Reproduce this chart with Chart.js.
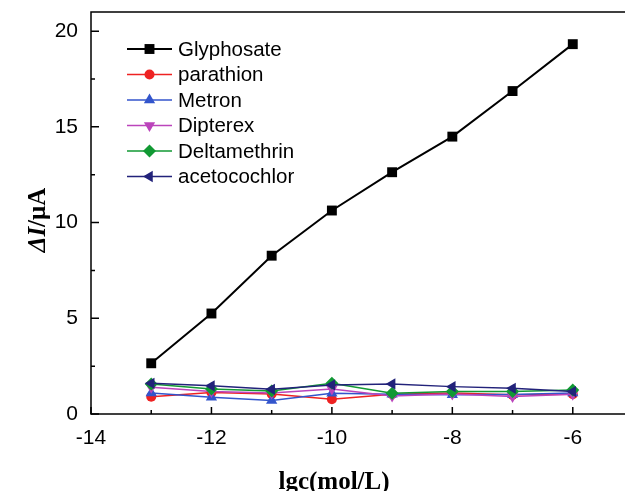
<!DOCTYPE html>
<html>
<head>
<meta charset="utf-8">
<script src="https://cdn.jsdelivr.net/npm/chart.js@4.4.1/dist/chart.umd.min.js"></script>
<style>
    html, body { margin: 0; padding: 0; background: #fff; overflow: hidden; }
    #wrap { width: 640px; height: 491px; }
</style>
</head>
<body>
<div id="wrap"><canvas id="responseChart" width="640" height="491"></canvas></div>
<script>
// --- Data ---
const concentrations = [-13, -12, -11, -10, -9, -8, -7, -6];
const glyphosate   = [2.65, 5.25, 8.27, 10.63, 12.63, 14.49, 16.87, 19.32];
const parathion    = [0.90, 1.12, 1.05, 0.77, 1.03, 1.10, 1.00, 1.03];
const metron       = [1.10, 0.87, 0.70, 1.08, 1.03, 1.00, 1.02, 1.10];
const dipterex     = [1.40, 1.17, 1.10, 1.30, 0.94, 1.05, 0.91, 1.03];
const deltamethrin = [1.57, 1.30, 1.20, 1.60, 1.08, 1.17, 1.17, 1.26];
const acetocochlor = [1.60, 1.47, 1.29, 1.52, 1.57, 1.43, 1.34, 1.17];

const seriesNames = ['Glyphosate', 'parathion', 'Metron', 'Dipterex', 'Deltamethrin', 'acetocochlor'];
const xMajorTicks = [-14, -12, -10, -8, -6];
const xMinorTicks = [-13, -11, -9, -7, -5];
const yMajorTicks = [0, 5, 10, 15, 20];
const yMinorTicks = [2.5, 7.5, 12.5, 17.5];

const styles = [
    { color: '#000000', pointStyle: 'rect',     rotation: 0,   radius: 7,   width: 2 },
    { color: '#ee2222', pointStyle: 'circle',   rotation: 0,   radius: 5,   width: 1.5 },
    { color: '#3355cc', pointStyle: 'triangle', rotation: 0,   radius: 6.5, width: 1.5 },
    { color: '#bb44bb', pointStyle: 'triangle', rotation: 180, radius: 6.5, width: 1.5 },
    { color: '#119933', pointStyle: 'rectRot',  rotation: 0,   radius: 6.5, width: 1.5 },
    { color: '#22227a', pointStyle: 'triangle', rotation: 270, radius: 6.5, width: 1.5 }
];

const allSeries = [glyphosate, parathion, metron, dipterex, deltamethrin, acetocochlor];

const datasets = allSeries.map((values, i) => ({
    label: seriesNames[i],
    data: values.map((v, j) => ({ x: concentrations[j], y: v })),
    showLine: true,
    borderColor: styles[i].color,
    backgroundColor: styles[i].color,
    borderWidth: styles[i].width,
    pointStyle: styles[i].pointStyle,
    pointRotation: styles[i].rotation,
    pointRadius: styles[i].radius,
    pointBorderWidth: 0,
    order: allSeries.length - i
}));

// frame, inward ticks, legend and axis titles
const framePlugin = {
    id: 'frame',
    afterDraw(chart) {
        const ctx = chart.ctx;
        const area = chart.chartArea;
        const xs = chart.scales.x;
        const ys = chart.scales.y;
        ctx.save();
        ctx.strokeStyle = '#000';
        ctx.lineWidth = 1.5;
        ctx.strokeRect(area.left, area.top, area.right - area.left, area.bottom - area.top);

        ctx.beginPath();
        xMajorTicks.forEach(v => {
            const px = xs.getPixelForValue(v);
            ctx.moveTo(px, area.bottom); ctx.lineTo(px, area.bottom - 7);
        });
        xMinorTicks.forEach(v => {
            const px = xs.getPixelForValue(v);
            ctx.moveTo(px, area.bottom); ctx.lineTo(px, area.bottom - 4);
        });
        yMajorTicks.forEach(v => {
            const py = ys.getPixelForValue(v);
            ctx.moveTo(area.left, py); ctx.lineTo(area.left + 8, py);
        });
        yMinorTicks.forEach(v => {
            const py = ys.getPixelForValue(v);
            ctx.moveTo(area.left, py); ctx.lineTo(area.left + 4, py);
        });
        ctx.stroke();

        // legend
        const top = 49, step = 25.5;
        ctx.font = '20.5px "Liberation Sans", Arial, sans-serif';
        ctx.textBaseline = 'middle';
        ctx.textAlign = 'left';
        chart.data.datasets.forEach((ds, i) => {
            const y = top + i * step;
            ctx.strokeStyle = ds.borderColor;
            ctx.lineWidth = ds.borderWidth;
            ctx.beginPath();
            ctx.moveTo(127, y); ctx.lineTo(172, y);
            ctx.stroke();
            ctx.fillStyle = ds.backgroundColor;
            Chart.helpers.drawPoint(ctx, {
                pointStyle: ds.pointStyle,
                rotation: ds.pointRotation,
                radius: ds.pointRadius,
                borderWidth: 0
            }, 149.5, y);
            ctx.fillStyle = '#000';
            ctx.fillText(ds.label, 178, y + 1);
        });

        // x title
        ctx.fillStyle = '#000';
        ctx.textAlign = 'center';
        ctx.textBaseline = 'alphabetic';
        ctx.font = 'bold 25px "Liberation Serif", "Times New Roman", serif';
        ctx.fillText('lgc(mol/L)', 334, 489);

        // y title: italic ΔI, upright /μA
        ctx.translate(45, 220);
        ctx.rotate(-Math.PI / 2);
        const italic = 'italic bold 25px "Liberation Serif", "Times New Roman", serif';
        const upright = 'bold 25px "Liberation Serif", "Times New Roman", serif';
        ctx.font = italic;
        const w1 = ctx.measureText('ΔI').width;
        ctx.font = upright;
        const w2 = ctx.measureText('/μA').width;
        const start = -(w1 + w2) / 2;
        ctx.textAlign = 'left';
        ctx.font = italic;
        ctx.fillText('ΔI', start, 0);
        ctx.font = upright;
        ctx.fillText('/μA', start + w1, 0);
        ctx.restore();
    }
};

const ctx = document.getElementById('responseChart').getContext('2d');
new Chart(ctx, {
    type: 'scatter',
    data: { datasets: datasets },
    options: {
        responsive: false,
        animation: false,
        layout: { padding: { left: 0, top: 12, right: 7, bottom: 0 } },
        plugins: {
            legend: { display: false },
            tooltip: { enabled: false }
        },
        scales: {
            x: {
                type: 'linear',
                min: -14,
                max: -5,
                grid: { display: false, drawTicks: false },
                border: { display: false },
                afterBuildTicks: scale => { scale.ticks = xMajorTicks.map(v => ({ value: v })); },
                afterFit: scale => {
                    scale.height = 77;
                    scale.paddingLeft = 0;
                    scale.paddingRight = 0;
                },
                ticks: {
                    padding: 12,
                    color: '#000',
                    maxRotation: 0,
                    font: { family: '"Liberation Sans", Arial, sans-serif', size: 21 }
                }
            },
            y: {
                min: 0,
                max: 21,
                grid: { display: false, drawTicks: false },
                border: { display: false },
                afterBuildTicks: scale => { scale.ticks = yMajorTicks.map(v => ({ value: v })); },
                afterFit: scale => {
                    scale.width = 91;
                    scale.paddingTop = 0;
                    scale.paddingBottom = 0;
                },
                ticks: {
                    padding: 13,
                    color: '#000',
                    font: { family: '"Liberation Sans", Arial, sans-serif', size: 21 }
                }
            }
        }
    },
    plugins: [framePlugin]
});
</script>
</body>
</html>
